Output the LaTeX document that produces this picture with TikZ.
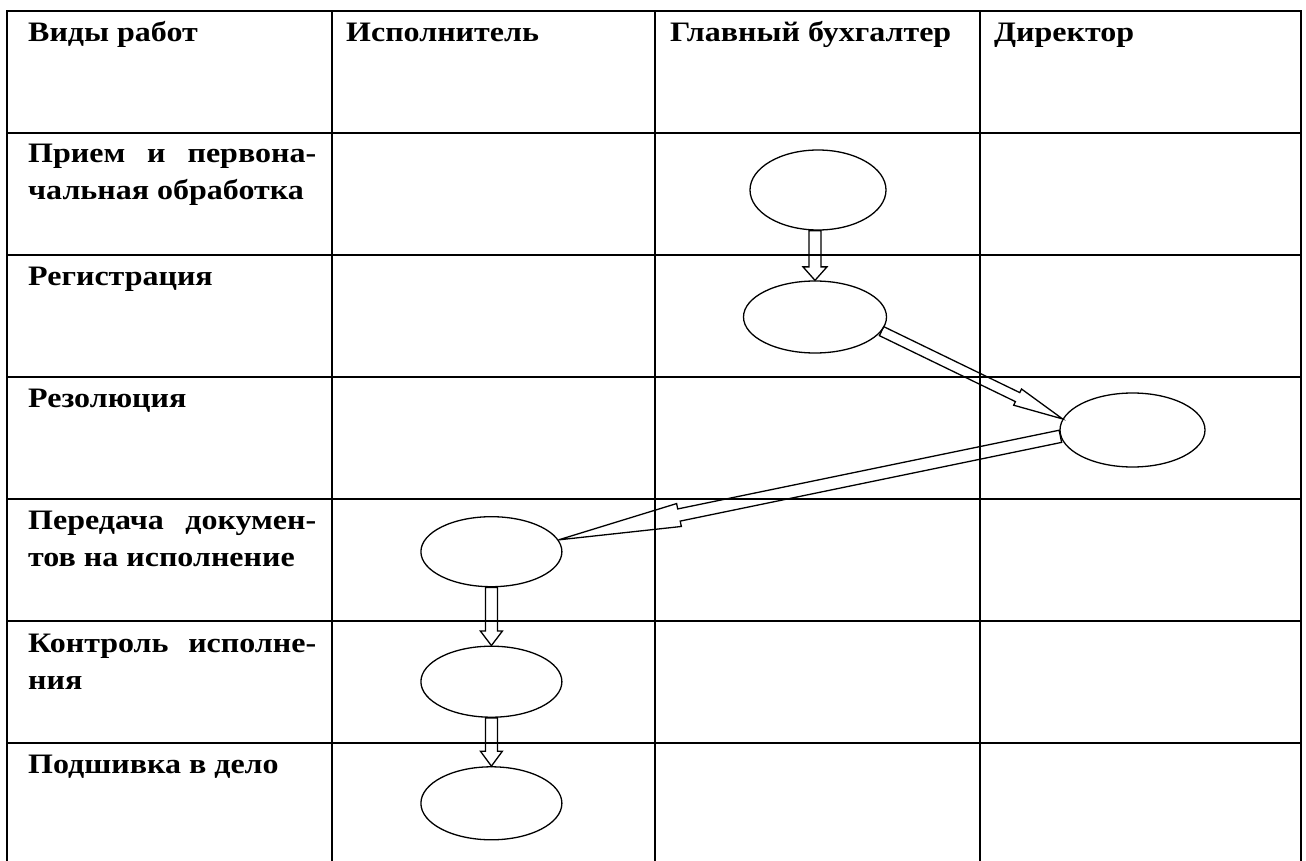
\documentclass[tikz,border=0pt]{standalone}
\usepackage{fontspec}
\setmainfont{Liberation Serif}
\usepackage{graphicx}
\usetikzlibrary{shapes.geometric,calc}
\newcommand\sqz[1]{\scalebox{1}[0.88]{#1}}
\newcommand\blkarrow[5]{%
  \coordinate (bah) at ($(#2)!#5!(#1)$);
  \draw[blockline] ($(#1)!#3!90:(#2)$) -- ($(bah)!#3!90:(#2)$) -- ($(bah)!#4!90:(#2)$) -- (#2)
    -- ($(bah)!#4!-90:(#2)$) -- ($(bah)!#3!-90:(#2)$) -- ($(#1)!#3!-90:(#2)$) -- cycle;}
\tikzset{
  gridline/.style={line width=2pt, black},
  bubble/.style={ellipse, draw, line width=1.3pt, inner sep=0pt},
  blockline/.style={draw, black, line width=1.3pt, line join=miter},
  lbl/.style={anchor=base west, inner sep=0pt, font=\bfseries\fontsize{32}{37}\selectfont}
}
\begin{document}
\begin{tikzpicture}[x=1pt,y=-1pt]
\useasboundingbox (0,0) rectangle (1306,861);
% table grid
\draw[gridline] (7.3,861) -- (7.3,11) -- (1301,11) -- (1301,861);
\foreach \xx in {331.6,654.5,980} \draw[gridline] (\xx,11) -- (\xx,861);
\foreach \yy in {133,254.5,376.7,499,621,743} \draw[gridline] (7.3,\yy) -- (1301,\yy);
% header texts
\node[lbl] (h1) at (28,42) {\sqz{Виды работ}};
\node[lbl] (h2) at (346,42) {\sqz{Исполнитель}};
\node[lbl] (h3) at (670,42) {\sqz{Главный бухгалтер}};
\node[lbl] (h4) at (994,42) {\sqz{Директор}};
% row texts
\node[lbl] (r1a) at (28,163) {\sqz{\makebox[288pt][s]{Прием и первона-}}};
\node[lbl] (r1b) at (28,200) {\sqz{чальная обработка}};
\node[lbl] (r2) at (28,285) {\sqz{Регистрация}};
\node[lbl] (r3) at (28,407) {\sqz{Резолюция}};
\node[lbl] (r4a) at (28,529) {\sqz{\makebox[288pt][s]{Передача докумен-}}};
\node[lbl] (r4b) at (28,566) {\sqz{тов на исполнение}};
\node[lbl] (r5a) at (28,652) {\sqz{\makebox[288pt][s]{Контроль исполне-}}};
\node[lbl] (r5b) at (28,689) {\sqz{ния}};
\node[lbl] (r6) at (28,773) {\sqz{Подшивка в дело}};
% ellipses
\node[bubble, minimum width=136pt, minimum height=80pt] (e1) at (818,190) {};
\node[bubble, minimum width=143pt, minimum height=72pt] (e2) at (815,317) {};
\node[bubble, minimum width=145pt, minimum height=74pt] (e3) at (1132.5,430) {};
\node[bubble, minimum width=141pt, minimum height=70pt] (e4) at (491.4,551.7) {};
\node[bubble, minimum width=141pt, minimum height=71pt] (e5) at (491.4,681.7) {};
\node[bubble, minimum width=141pt, minimum height=73pt] (e6) at (491.4,803.3) {};
% arrow end points
\coordinate (a1s) at (e1.south -| e2.north);
\coordinate (a2s) at (e2.-12);
\coordinate (a2e) at (e3.171);
\coordinate (a3s) at (e3.185);
\coordinate (a3e) at (e4.10);
% block arrows
\blkarrow{a1s}{e2.north}{6pt}{12pt}{13.5pt}
\blkarrow{a2s}{a2e}{5pt}{9pt}{50pt}
\blkarrow{a3s}{a3e}{6.2pt}{11.7pt}{123pt}
\blkarrow{e4.south}{e5.north}{6pt}{11pt}{14.5pt}
\blkarrow{e5.south}{e6.north}{6pt}{11pt}{15pt}
\end{tikzpicture}
\end{document}
